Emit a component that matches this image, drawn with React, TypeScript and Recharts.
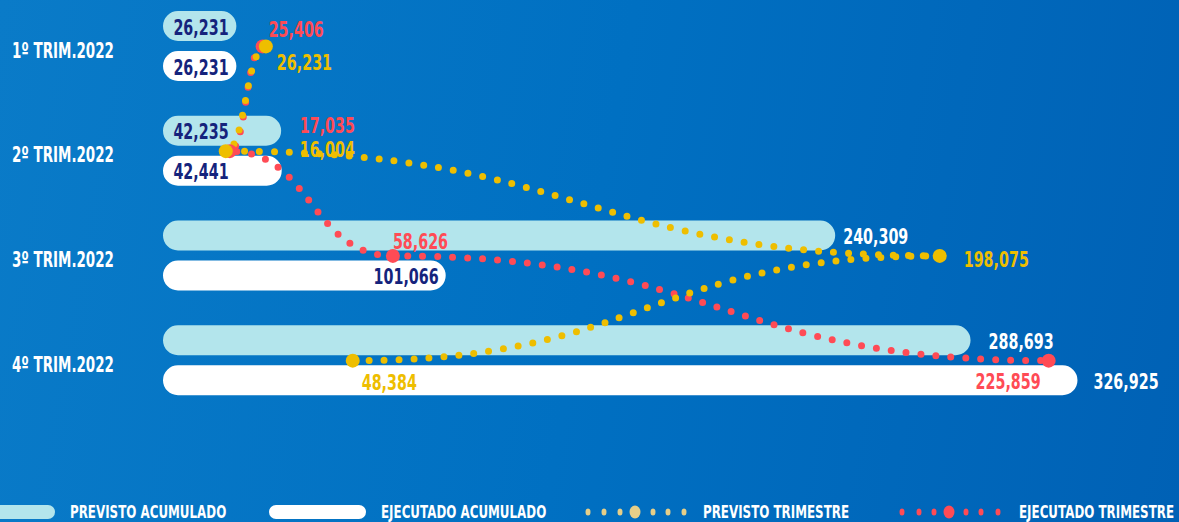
import { ComposedChart, Bar, Line, XAxis, YAxis, LabelList } from 'recharts';

const trimestres = ['1º TRIM.2022', '2º TRIM.2022', '3º TRIM.2022', '4º TRIM.2022'];
const previstoAcumulado = [26231, 42235, 240309, 288693];
const ejecutadoAcumulado = [26231, 42441, 101066, 326925];
const previstoTrimestre = [26231, 16004, 198075, 48384];
const ejecutadoTrimestre = [25406, 17035, 58626, 225859];

const data = trimestres.map((name, i) => ({
  name,
  prevAc: previstoAcumulado[i],
  ejecAc: ejecutadoAcumulado[i],
  prevTr: previstoTrimestre[i],
  ejecTr: ejecutadoTrimestre[i],
}));

const FONT = "'DejaVu Sans', sans-serif";
const NAVY = '#15237c';
const LIGHT = '#b3e5ec';
const RED = '#ff4b55';
const YELLOW = '#eebe00';

const fmt = (v: number) => v.toLocaleString('en-US');

// condensed look: squeeze text horizontally around its anchor
function Narrow({ x, y, anchor = 'start', fill, size = 22, sx = 0.65, children }: any) {
  return (
    <text transform={`translate(${x},${y}) scale(${sx},1)`} x={0} y={0} textAnchor={anchor}
      dominantBaseline="central" fill={fill} fontFamily={FONT} fontWeight="bold" fontSize={size}>
      {children}
    </text>
  );
}

// where each label sits (styling only)
const prevBarLbl = [{ m: 'mid' }, { m: 'mid' }, { m: 'out', d: 8 }, { m: 'out', d: 18 }];
const ejecBarLbl = [{ m: 'mid' }, { m: 'mid' }, { m: 'end' }, { m: 'out', d: 16 }];
const redLbl = [{ dx: 6, dy: -17 }, { dx: 70, dy: -26 }, { dx: 0, dy: -15 }, { dx: -8, dy: 21, end: true }];
const yelLbl = [{ dx: 11, dy: 16 }, { dx: 74, dy: -2 }, { dx: 24, dy: 3 }, { dx: 9, dy: 22 }];

const barLabel = (cfg: any[]) => (p: any) => {
  const { x, y, width, height, value, index } = p;
  const c = cfg[index];
  let tx = x + width + (c.d || 10), anchor = 'start', fill = '#fff';
  if (c.m === 'mid') { tx = x + 38; anchor = 'middle'; fill = NAVY; }
  if (c.m === 'end') { tx = x + width - 7; anchor = 'end'; fill = NAVY; }
  return <Narrow x={tx} y={y + height / 2 + 1} anchor={anchor} fill={fill}>{fmt(value)}</Narrow>;
};

const lineLabel = (cfg: any[], color: string) => (p: any) => {
  const { x, y, value, index } = p;
  const c = cfg[index];
  return <Narrow x={x + c.dx} y={y + c.dy} anchor={c.end ? 'end' : 'start'} fill={color}>{fmt(value)}</Narrow>;
};

const bigDot = (color: string) => (p: any) => (
  <circle key={p.index} cx={p.cx} cy={p.cy} r={7} fill={color} />
);

const YTick = (p: any) => (
  <Narrow x={12} y={p.y + 4} fill="#fff" size={21} sx={0.64}>{p.payload.value}</Narrow>
);

function LegendRow() {
  const yDots = [588, 604, 620, 653, 668, 684];
  const rDots = [902, 919, 934, 966, 981, 998];
  const items = [
    { x: 70, t: 'PREVISTO ACUMULADO' },
    { x: 381, t: 'EJECUTADO ACUMULADO' },
    { x: 703, t: 'PREVISTO TRIMESTRE' },
    { x: 1019, t: 'EJECUTADO TRIMESTRE' },
  ];
  return (
    <svg width={1179} height={522} style={{ position: 'absolute', left: 0, top: 0, pointerEvents: 'none' }}>
      <rect x={-20} y={505} width={75} height={14} rx={7} fill={LIGHT} />
      <rect x={269} y={505} width={97} height={14} rx={7} fill="#fff" />
      {yDots.map((cx) => <ellipse key={cx} cx={cx} cy={512} rx={2.5} ry={3.5} fill="#e6cf88" />)}
      <ellipse cx={635} cy={512} rx={5.5} ry={6.5} fill="#e6cf88" />
      {rDots.map((cx) => <ellipse key={cx} cx={cx} cy={512} rx={2.5} ry={3.5} fill={RED} />)}
      <ellipse cx={949} cy={512} rx={5.5} ry={6.5} fill={RED} />
      {items.map((it) => (
        <Narrow key={it.t} x={it.x} y={512} fill="#fff" size={18} sx={0.66}>{it.t}</Narrow>
      ))}
    </svg>
  );
}

export default function App() {
  return (
    <div style={{
      position: 'absolute', left: 0, top: 0, width: 1179, height: 522, overflow: 'hidden',
      background: 'linear-gradient(100deg, #0a7bc8 0%, #0070c2 50%, #0061b5 100%)',
    }}>
      <ComposedChart width={1179} height={522} data={data} layout="vertical"
        margin={{ top: -6, right: 9, bottom: 109, left: 0 }} barSize={30} barGap={10}>
        <XAxis xAxisId="bar" type="number" domain={[0, 360000]} hide />
        <XAxis xAxisId="line" type="number" domain={[0, 256800]} hide />
        <YAxis type="category" dataKey="name" width={163} axisLine={false} tickLine={false} tick={<YTick />} />
        <Bar xAxisId="bar" dataKey="prevAc" fill={LIGHT} radius={[15, 15, 15, 15]} isAnimationActive={false}>
          <LabelList dataKey="prevAc" content={barLabel(prevBarLbl)} />
        </Bar>
        <Bar xAxisId="bar" dataKey="ejecAc" fill="#fff" radius={[15, 15, 15, 15]} isAnimationActive={false}>
          <LabelList dataKey="ejecAc" content={barLabel(ejecBarLbl)} />
        </Bar>
        <Line xAxisId="line" dataKey="ejecTr" type="bumpX" stroke={RED} strokeWidth={7}
          strokeDasharray="0 15" strokeLinecap="round" dot={bigDot(RED)} activeDot={false}
          isAnimationActive={false}>
          <LabelList dataKey="ejecTr" content={lineLabel(redLbl, RED)} />
        </Line>
        <Line xAxisId="line" dataKey="prevTr" type="bumpX" stroke={YELLOW} strokeWidth={7}
          strokeDasharray="0 15" strokeLinecap="round" dot={bigDot(YELLOW)} activeDot={false}
          isAnimationActive={false}>
          <LabelList dataKey="prevTr" content={lineLabel(yelLbl, YELLOW)} />
        </Line>
      </ComposedChart>
      <LegendRow />
    </div>
  );
}
